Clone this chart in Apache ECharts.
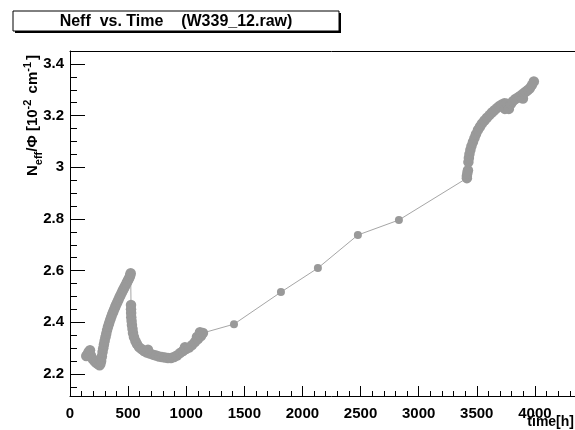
<!DOCTYPE html>
<html>
<head>
<meta charset="utf-8">
<script src="https://cdn.jsdelivr.net/npm/echarts@6/dist/echarts.min.js"></script>
<style>
  html, body { margin: 0; padding: 0; background: #fff; overflow: hidden; width: 575px; height: 430px; }
  /* the canvas is wider than the window so the plot frame runs off the right edge */
  #chart { width: 620px; height: 430px; }
</style>
</head>
<body>
<div id="chart"></div>
<script>
// start of run, small dip before the rise
const startTime = [140, 150, 160, 172, 180, 195, 210, 225, 240, 255, 262];
const startNeff = [2.270, 2.276, 2.285, 2.292, 2.272, 2.258, 2.250, 2.244, 2.239, 2.234, 2.240];

// steep rise up to the peak
const riseTime = [268, 274, 280, 286, 292, 298, 305, 312, 319, 327, 336, 345, 354, 363, 372, 381, 390, 399, 408, 417, 426, 435, 444, 453, 462, 471, 480, 489, 498, 506, 514, 519, 522];
const riseNeff = [2.250, 2.268, 2.285, 2.300, 2.314, 2.328, 2.342, 2.356, 2.370, 2.383, 2.396, 2.408, 2.420, 2.431, 2.441, 2.451, 2.461, 2.470, 2.479, 2.488, 2.497, 2.505, 2.514, 2.522, 2.530, 2.538, 2.546, 2.554, 2.562, 2.569, 2.576, 2.583, 2.590];

// drop after the peak and slow recovery
const dropTime = [525, 525, 526, 527, 530, 533, 538, 542, 550, 563, 576, 594, 615, 637, 662, 671, 688, 714, 740, 766, 791, 817, 843, 869, 895, 920, 946, 972, 989, 998, 1024, 1050, 1075, 1092, 1101, 1118, 1127, 1144];
const dropNeff = [2.467, 2.451, 2.436, 2.420, 2.405, 2.390, 2.374, 2.359, 2.343, 2.328, 2.316, 2.304, 2.297, 2.289, 2.283, 2.294, 2.279, 2.275, 2.272, 2.268, 2.266, 2.264, 2.262, 2.262, 2.266, 2.272, 2.281, 2.289, 2.304, 2.297, 2.303, 2.312, 2.324, 2.343, 2.335, 2.362, 2.347, 2.359];

// sparse measurements
const midTime = [1411, 1815, 2133, 2477, 2830];
const midNeff = [2.393, 2.517, 2.610, 2.738, 2.796];

// last dense block
const lateTime = [3415, 3415, 3419, 3424, 3428, 3432, 3437, 3445, 3454, 3467, 3480, 3493, 3510, 3527, 3544, 3566, 3587, 3609, 3630, 3652, 3673, 3695, 3716, 3738, 3742, 3759, 3776, 3794, 3811, 3832, 3854, 3871, 3888, 3897, 3905, 3923, 3940, 3957, 3974, 3991];
const lateNeff = [2.958, 2.966, 2.978, 2.989, 3.020, 3.036, 3.051, 3.067, 3.082, 3.098, 3.113, 3.128, 3.144, 3.157, 3.169, 3.181, 3.192, 3.202, 3.212, 3.221, 3.229, 3.237, 3.243, 3.248, 3.226, 3.246, 3.226, 3.246, 3.256, 3.264, 3.270, 3.275, 3.281, 3.266, 3.287, 3.293, 3.299, 3.306, 3.318, 3.332];

const yMajor = [2.2, 2.4, 2.6, 2.8, 3, 3.2, 3.4];
const yMinor = [2.15, 2.25, 2.3, 2.35, 2.45, 2.5, 2.55, 2.65, 2.7, 2.75, 2.85, 2.9, 2.95, 3.05, 3.1, 3.15, 3.25, 3.3, 3.35];

const pairs = (ts, vs) => ts.map((t, i) => [t, vs[i]]);
const allPoints = [].concat(
  pairs(startTime, startNeff), pairs(riseTime, riseNeff), pairs(dropTime, dropNeff),
  pairs(midTime, midNeff), pairs(lateTime, lateNeff)
);
// sparse points get the plain marker, dense runs look thicker
const midFrom = startTime.length + riseTime.length + dropTime.length;
const midTo = midFrom + midTime.length;

const FONT = 'Liberation Sans, Arial, sans-serif';
const chart = echarts.init(document.getElementById('chart'), null, { renderer: 'canvas' });

chart.setOption({
  animation: false,
  backgroundColor: '#fff',
  grid: {
    left: 70, top: 51, width: 523, height: 345,
    outerBoundsMode: 'none', containLabel: false,
  },
  xAxis: [
    {
      type: 'value', min: 0, max: 4500, interval: 500, position: 'bottom',
      axisLine: { onZero: false, lineStyle: { color: '#000', width: 1 } },
      axisTick: { inside: true, length: 10, lineStyle: { color: '#000' } },
      minorTick: { show: true, splitNumber: 5, length: 5, lineStyle: { color: '#000' } },
      splitLine: { show: false },
      axisLabel: {
        color: '#000', fontFamily: FONT, fontWeight: 'bold', fontSize: 15, margin: 10,
        formatter: v => (v > 4000 ? '' : String(v)),
      },
    },
    {
      // frame line along the top
      type: 'value', min: 0, max: 4500, position: 'top',
      axisLine: { show: true, onZero: false, lineStyle: { color: '#000', width: 1 } },
      axisTick: { show: false },
      axisLabel: { show: false },
      splitLine: { show: false },
    },
  ],
  yAxis: [
    {
      type: 'value', min: 2.115, max: 3.45, position: 'left',
      axisLine: { show: true, onZero: false, lineStyle: { color: '#000', width: 1 } },
      axisTick: { inside: true, length: 15, customValues: yMajor, lineStyle: { color: '#000' } },
      splitLine: { show: false },
      axisLabel: {
        customValues: yMajor, color: '#000', fontFamily: FONT, fontWeight: 'bold', fontSize: 15, margin: 6,
      },
    },
    {
      type: 'value', min: 2.115, max: 3.45, position: 'left',
      axisLine: { show: false, onZero: false },
      axisTick: { inside: true, length: 7, customValues: yMinor, lineStyle: { color: '#000' } },
      splitLine: { show: false },
      axisLabel: { show: false },
    },
  ],
  series: [
    {
      type: 'line',
      data: allPoints,
      symbol: 'circle',
      symbolSize: (val, p) => (p.dataIndex >= midFrom && p.dataIndex < midTo ? 8 : 10.5),
      itemStyle: { color: '#999999' },
      lineStyle: { color: '#a6a6a6', width: 1 },
      emphasis: { disabled: true },
    },
  ],
  graphic: [
    { type: 'rect', shape: { x: 15, y: 13, width: 326, height: 20 }, style: { fill: '#000' } },
    { type: 'rect', shape: { x: 13, y: 11, width: 326, height: 20 }, style: { fill: '#fff', stroke: '#000', lineWidth: 1 } },
    {
      type: 'text', x: 176, y: 21.5,
      style: {
        text: 'Neff  vs. Time    (W339_12.raw)', fill: '#000',
        font: 'bold 16px ' + FONT, align: 'center', verticalAlign: 'middle',
      },
    },
    {
      type: 'text', x: 33, y: 55, rotation: Math.PI / 2,
      style: {
        text: '{n|N}{sub|eff}{n|/\u03A6 [10}{sup|-2}{n| cm}{sup|-1}{n|]}',
        align: 'right', verticalAlign: 'middle', fill: '#000',
        rich: {
          n: { font: 'bold 15px ' + FONT, fill: '#000', lineHeight: 22, verticalAlign: 'middle' },
          sub: { font: 'bold 11px ' + FONT, fill: '#000', lineHeight: 22, verticalAlign: 'bottom', padding: [7, 0, 0, 0] },
          sup: { font: 'bold 11px ' + FONT, fill: '#000', lineHeight: 22, verticalAlign: 'top', padding: [0, 2, 7, 0] },
        },
      },
    },
    {
      type: 'text', x: 574, y: 422,
      style: { text: 'time[h]', font: 'bold 14px ' + FONT, fill: '#000', align: 'right', verticalAlign: 'middle' },
    },
  ],
});
</script>
</body>
</html>
